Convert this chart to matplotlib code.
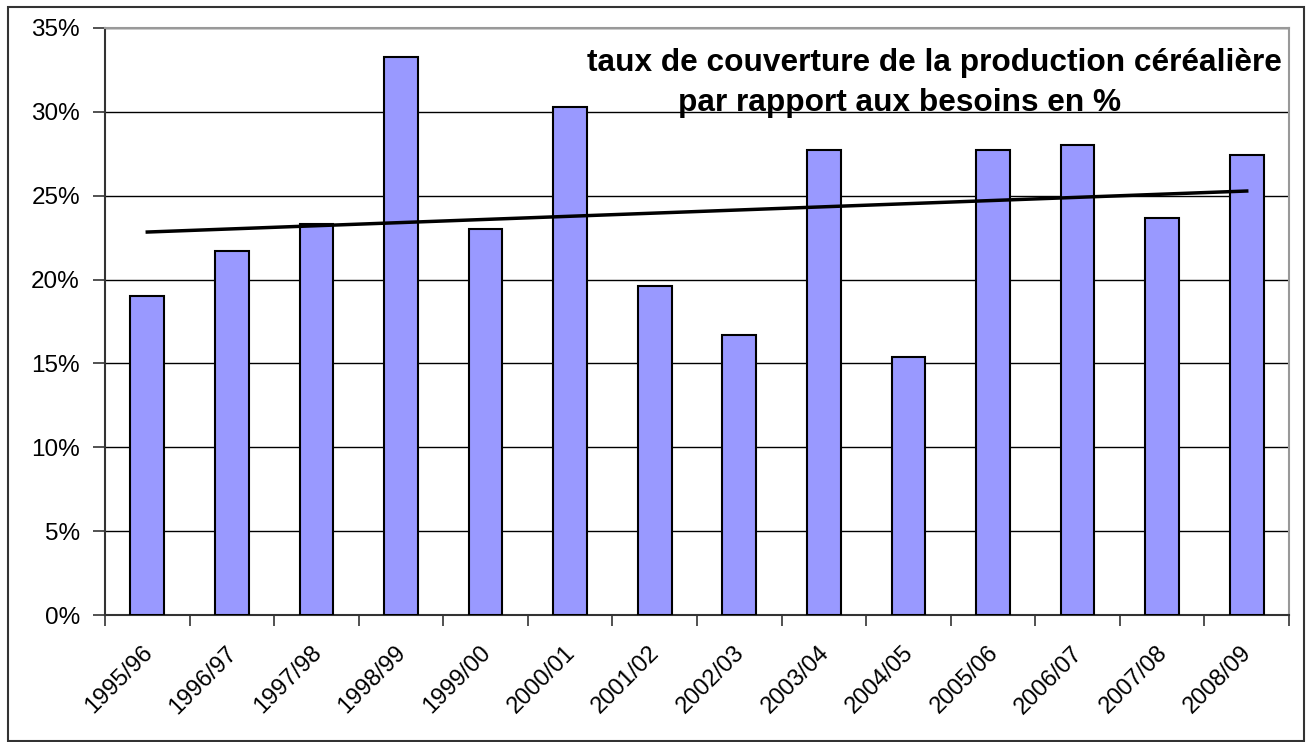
import numpy as np
import matplotlib
matplotlib.use("Agg")
import matplotlib.pyplot as plt
from matplotlib.ticker import FuncFormatter, MultipleLocator
from matplotlib.patches import Rectangle

years = ["1995/96", "1996/97", "1997/98", "1998/99", "1999/00", "2000/01", "2001/02",
         "2002/03", "2003/04", "2004/05", "2005/06", "2006/07", "2007/08", "2008/09"]
taux = [19.0, 21.7, 23.3, 33.3, 23.0, 30.3, 19.6, 16.7, 27.7, 15.4, 27.7, 28.0, 23.7, 27.4]
title_lines = ["taux de couverture de la production céréalière", "par rapport aux besoins en %"]

plt.rcParams['font.family'] = ['Liberation Sans', 'DejaVu Sans']

W, H = 1308, 742
fig = plt.figure(figsize=(W / 100, H / 100), dpi=100)
ax = fig.add_axes([105 / W, 1 - 615 / H, (1289 - 105) / W, (615 - 28) / H])

x = np.arange(len(years))
ax.bar(x, taux, width=0.40, color="#9999FF", edgecolor="black", linewidth=1.5, zorder=3)

coef = np.polyfit(x, taux, 1)
ax.plot([x[0], x[-1]], np.polyval(coef, [x[0], x[-1]]), color="black", linewidth=2.5, zorder=4)

ax.set_xlim(-0.5, len(years) - 0.5)
ax.set_ylim(0, 35)
ax.yaxis.set_major_locator(MultipleLocator(5))
ax.yaxis.set_major_formatter(FuncFormatter(lambda v, p: f"{v:.0f}%"))
ax.grid(axis="y", color="black", linewidth=1.0, zorder=0)

ax.set_xticks(np.arange(len(years) + 1) - 0.5)
ax.set_xticklabels([])
ax.tick_params(axis="x", length=8, width=1.2, color="#333333", direction="out")
ax.tick_params(axis="y", length=9, width=1.2, color="#333333", direction="out", labelsize=17.5, pad=9)

for i, lab in enumerate(years):
    ax.annotate(lab, xy=(x[i], 0), xycoords=("data", "axes fraction"), xytext=(-6, -27),
                textcoords="offset pixels", rotation=45, ha="right", va="top",
                rotation_mode="anchor", fontsize=17)

for s in ["top", "right"]:
    ax.spines[s].set_color("#999999")
    ax.spines[s].set_linewidth(1.5)
for s in ["left", "bottom"]:
    ax.spines[s].set_color("#333333")
    ax.spines[s].set_linewidth(1.5)

fig.text(934 / W, 1 - 71 / H, title_lines[0], ha="center", va="baseline", fontsize=22.8, fontweight="bold")
fig.text(900 / W, 1 - 111 / H, title_lines[1], ha="center", va="baseline", fontsize=22.8, fontweight="bold")

fig.patches.append(Rectangle((8 / W, 1 / H), (1304 - 8) / W, (735 - 1) / H, transform=fig.transFigure,
                             fill=False, edgecolor="#333333", linewidth=1.5))

fig.savefig("out.png", dpi=100)
